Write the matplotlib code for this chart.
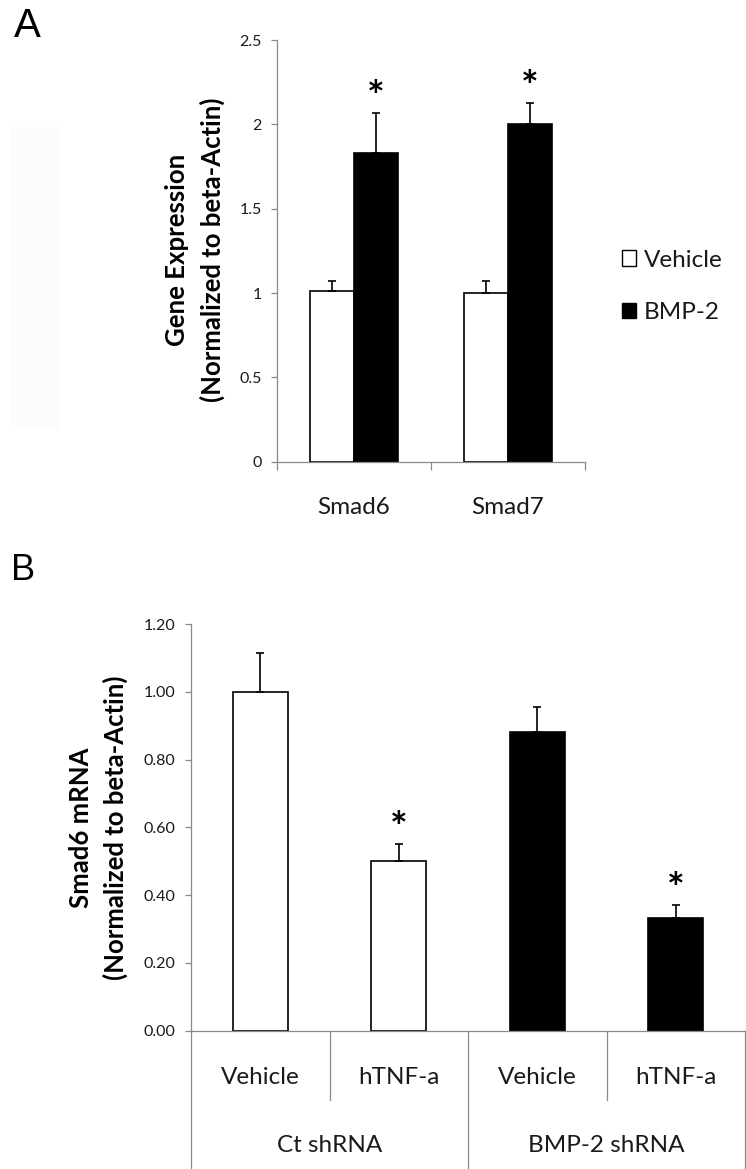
import matplotlib
matplotlib.use("Agg")
import matplotlib.pyplot as plt
import matplotlib.transforms as mtransforms
from matplotlib.patches import Patch, Rectangle

# ---------------- data ----------------
genes = ["Smad6", "Smad7"]
vehicle_vals = [1.01, 1.00]
vehicle_err = [0.06, 0.07]
bmp2_vals = [1.83, 2.00]
bmp2_err = [0.24, 0.125]
a_yticks = [0, 0.5, 1, 1.5, 2, 2.5]
a_yticklabels = ["0", "0.5", "1", "1.5", "2", "2.5"]
legend_labels = ["Vehicle", "BMP-2"]

b_treatments = ["Vehicle", "hTNF-a", "Vehicle", "hTNF-a"]
b_groups = ["Ct shRNA", "BMP-2 shRNA"]
b_vals = [1.00, 0.50, 0.88, 0.333]
b_err = [0.115, 0.05, 0.074, 0.038]
b_colors = ["white", "white", "black", "black"]
b_sig = [False, True, False, True]
b_yticks = [0.0, 0.2, 0.4, 0.6, 0.8, 1.0, 1.2]
b_yticklabels = ["0.00", "0.20", "0.40", "0.60", "0.80", "1.00", "1.20"]

FONT = "Lato"
GRAY = "#8a8a8a"
TXT = "#1a1a1a"
LBL = 18.5
CAT = 17.5
TICK = 11.5
STAR = 30
STAR_OFF = 10

W, H = 746, 1169
fig = plt.figure(figsize=(W / 100, H / 100), dpi=100)
fig.patch.set_facecolor("white")

def fx(px):
    return px / W

def fy(py):
    return 1 - py / H

# faint background strip on the left of panel A
fig.patches.append(Rectangle((fx(10), fy(430)), fx(50), (430 - 127) / H,
                             transform=fig.transFigure, facecolor="#fdfbfb",
                             edgecolor="none", zorder=0))

# ---------------- Panel A ----------------
axA = fig.add_axes([fx(277), fy(461.7), fx(585 - 277), (461.7 - 40) / H])
x = list(range(len(genes)))
bw = 0.285
xv = [i - bw / 2 for i in x]
xb = [i + bw / 2 for i in x]
axA.bar(xv, vehicle_vals, bw, color="white", edgecolor="black", linewidth=1.2, zorder=2)
axA.bar(xb, bmp2_vals, bw, color="black", edgecolor="black", linewidth=1.2, zorder=2)
axA.errorbar(xv, vehicle_vals, yerr=[[0] * len(x), vehicle_err], fmt="none",
             ecolor="black", elinewidth=1.2, capsize=2.9, capthick=1.2, zorder=3)
axA.errorbar(xb, bmp2_vals, yerr=[[0] * len(x), bmp2_err], fmt="none",
             ecolor="black", elinewidth=1.2, capsize=2.9, capthick=1.2, zorder=3)
for xi, v, e in zip(xb, bmp2_vals, bmp2_err):
    axA.annotate("*", (xi, v + e), xytext=(0, STAR_OFF), textcoords="offset points",
                 ha="center", va="center", fontsize=STAR, fontweight="bold",
                 family=FONT, color="black")

axA.set_xlim(-0.5, len(genes) - 0.5)
axA.set_ylim(0, 2.5)
axA.set_yticks(a_yticks)
axA.set_yticklabels(a_yticklabels, family=FONT, fontsize=TICK, color=TXT)
axA.set_xticks([i - 0.5 for i in range(len(genes) + 1)])
axA.set_xticklabels([])
axA.tick_params(axis="x", direction="out", length=6, width=0.9, color=GRAY)
axA.tick_params(axis="y", direction="out", length=4, width=0.9, color=GRAY, pad=7)
for s in ["top", "right"]:
    axA.spines[s].set_visible(False)
for s in ["left", "bottom"]:
    axA.spines[s].set_color(GRAY)
    axA.spines[s].set_linewidth(0.9)
transA = mtransforms.blended_transform_factory(axA.transData, axA.transAxes)
for i, g in enumerate(genes):
    axA.text(i, -0.108, g, transform=transA, ha="center", va="center",
             family=FONT, fontsize=CAT, color=TXT)

fig.text(fx(177), fy(250), "Gene Expression", rotation=90, ha="center", va="center",
         family=FONT, fontsize=LBL, fontweight="bold", color="black")
fig.text(fx(212.5), fy(250), "(Normalized to beta-Actin)", rotation=90, ha="center",
         va="center", family=FONT, fontsize=LBL, fontweight="bold", color="black")

handles = [Patch(facecolor="white", edgecolor="black", linewidth=1.0),
           Patch(facecolor="black", edgecolor="black", linewidth=1.0)]
leg = fig.legend(handles, legend_labels, loc="upper left",
                 bbox_to_anchor=(fx(612), fy(240)), frameon=False,
                 prop={"family": FONT, "size": CAT}, handlelength=0.6,
                 handleheight=0.6, handletextpad=0.3, labelspacing=1.3,
                 borderaxespad=0)
for t in leg.get_texts():
    t.set_color(TXT)

fig.text(fx(14), fy(26), "A", ha="left", va="center", family="Liberation Sans",
         fontsize=29, color="black")
fig.text(fx(11), fy(570), "B", ha="left", va="center", family="Liberation Sans",
         fontsize=26, color="black")

# ---------------- Panel B ----------------
axB = fig.add_axes([fx(191), fy(1030.7), fx(745 - 191), (1030.7 - 624) / H])
xbp = list(range(len(b_vals)))
axB.bar(xbp, b_vals, 0.40, color=b_colors, edgecolor="black", linewidth=1.2, zorder=2)
axB.errorbar(xbp, b_vals, yerr=[[0] * len(xbp), b_err], fmt="none", ecolor="black",
             elinewidth=1.2, capsize=2.7, capthick=1.2, zorder=3)
for xi, v, e, s in zip(xbp, b_vals, b_err, b_sig):
    if s:
        axB.annotate("*", (xi, v + e), xytext=(0, STAR_OFF), textcoords="offset points",
                     ha="center", va="center", fontsize=STAR, fontweight="bold",
                     family=FONT, color="black")
axB.set_xlim(-0.5, len(b_vals) - 0.5)
axB.set_ylim(0, 1.2)
axB.set_yticks(b_yticks)
axB.set_yticklabels(b_yticklabels, family=FONT, fontsize=TICK, color=TXT)
axB.set_xticks([])
axB.tick_params(axis="y", direction="out", length=4, width=0.9, color=GRAY, pad=7)
for s in ["top", "right"]:
    axB.spines[s].set_visible(False)
for s in ["left", "bottom"]:
    axB.spines[s].set_color(GRAY)
    axB.spines[s].set_linewidth(0.9)

transB = mtransforms.blended_transform_factory(axB.transData, axB.transAxes)
ax_h_px = 1030.7 - 624
inner_bottom = -(1100 - 1030.7) / ax_h_px
outer_bottom = -(1169 - 1030.7) / ax_h_px
n_per_group = len(b_treatments) // len(b_groups)
for i, t in enumerate(b_treatments):
    axB.text(i, -(1077 - 1030.7) / ax_h_px, t, transform=transB, ha="center",
             va="center", family=FONT, fontsize=CAT, color=TXT)
for gi, g in enumerate(b_groups):
    cx = gi * n_per_group + (n_per_group - 1) / 2
    axB.text(cx, -(1146 - 1030.7) / ax_h_px, g, transform=transB, ha="center",
             va="center", family=FONT, fontsize=CAT, color=TXT)
    for k in range(1, n_per_group):
        xd = gi * n_per_group + k - 0.5
        axB.plot([xd, xd], [0, inner_bottom], transform=transB, color=GRAY,
                 lw=0.9, clip_on=False)
for gi in range(len(b_groups) + 1):
    xd = gi * n_per_group - 0.5
    axB.plot([xd, xd], [0, outer_bottom], transform=transB, color=GRAY,
             lw=0.9, clip_on=False)

fig.text(fx(81), fy(828), "Smad6 mRNA", rotation=90, ha="center", va="center",
         family=FONT, fontsize=LBL, fontweight="bold", color="black")
fig.text(fx(115), fy(828), "(Normalized to beta-Actin)", rotation=90, ha="center",
         va="center", family=FONT, fontsize=LBL, fontweight="bold", color="black")

fig.savefig("out.png", dpi=100, facecolor="white")
